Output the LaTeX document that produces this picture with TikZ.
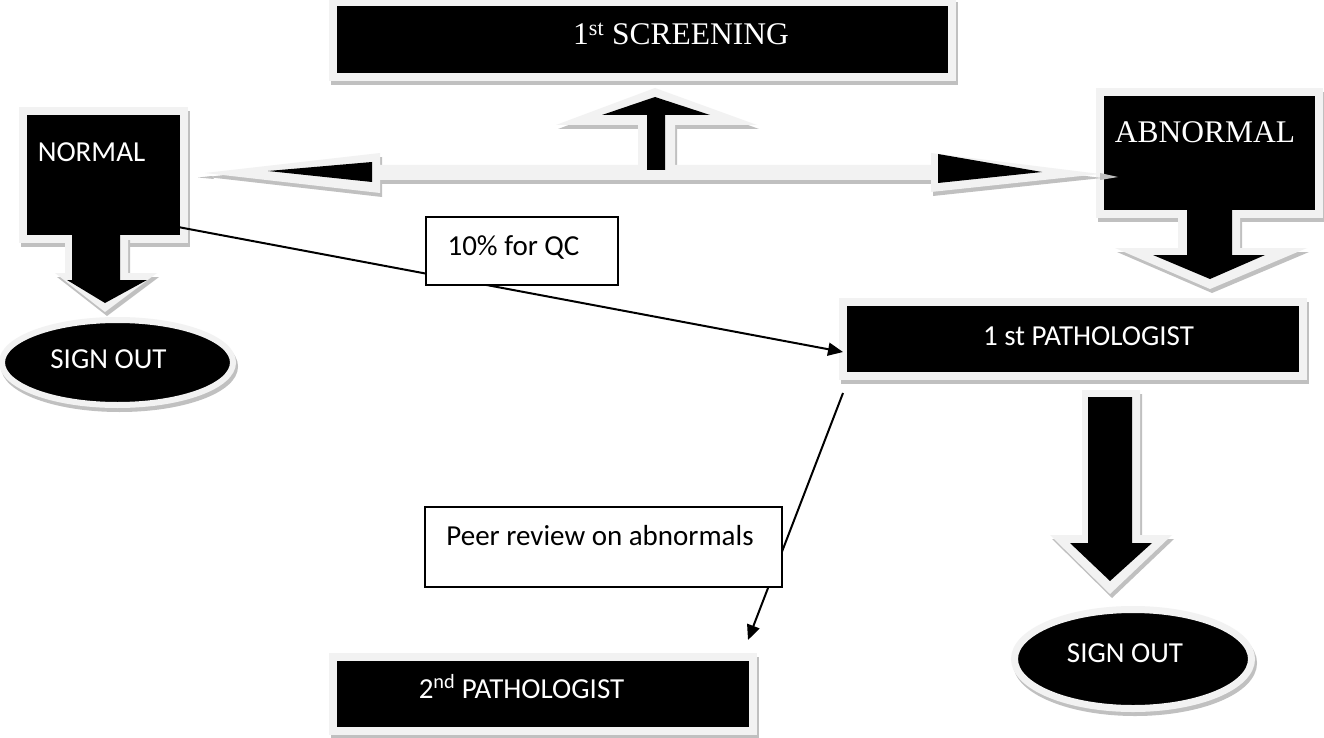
\documentclass[tikz,border=0pt]{standalone}
\usepackage{fontspec}
\setmainfont{Liberation Serif}
\newfontfamily\calfont{Carlito}
\usetikzlibrary{shapes.geometric,arrows.meta,calc}
\definecolor{rimgray}{HTML}{F2F2F2}
\definecolor{shadowgray}{HTML}{C0C0C0}
\tikzset{
  boxshadow/.style={preaction={fill=shadowgray, draw=shadowgray, line width=#1, transform canvas={shift={(2pt,-4pt)}}}},
  blackbox/.style={rectangle, fill=black, draw=rimgray, line width=8pt, inner sep=0pt, outer sep=0pt, boxshadow=8pt},
  blackoval/.style={ellipse, fill=black, draw=rimgray, line width=#1, inner sep=0pt, outer sep=0pt, boxshadow=#1},
  notebox/.style={rectangle, fill=white, draw=black, line width=1.5pt, inner sep=0pt, outer sep=0pt},
  sanstext/.style={inner sep=0pt, anchor=base, text=white, font=\calfont\fontsize{29pt}{34pt}\selectfont},
  seriftext/.style={inner sep=0pt, anchor=base, text=white, font=\fontsize{31.5pt}{37pt}\selectfont},
  notetext/.style={sanstext, text=black},
  rim/.style={fill=rimgray, preaction={fill=shadowgray, transform canvas={shift={(2pt,-4pt)}}}},
  core/.style={fill=black},
  flowline/.style={draw=black, line width=2pt, -{Triangle[length=15pt,width=13pt]}},
}
\begin{document}
\begin{tikzpicture}[x=1pt,y=-1pt]
\useasboundingbox (0,0) rectangle (1324,738);
\fill[white] (0,0) rectangle (1324,738);

% boxes
\node[blackbox, minimum width=619pt, minimum height=75pt] (screening) at (642.5,39.5) {};
\node[blackbox, minimum width=161pt, minimum height=128pt] (normal) at (103.5,175) {};
\node[blackbox, minimum width=219pt, minimum height=122pt] (abnormal) at (1209.5,153) {};
\node[blackbox, minimum width=460pt, minimum height=74pt] (path1) at (1073,339) {};
\node[blackbox, minimum width=420pt, minimum height=74pt] (path2) at (543,694) {};
\node[blackoval=6pt, minimum width=231pt, minimum height=85pt] (signout1) at (117.5,362.5) {};
\node[blackoval=7pt, minimum width=237pt, minimum height=99pt] (signout2) at (1133,659) {};

% block arrows: light rims
\fill[rim] (638,170) -- (638,125) -- (556,125) -- (655,88) -- (757,125) -- (675,125) -- (675,170) -- cycle;
\fill[rim] (205,173) -- (380,153) -- (380,165) -- (931,165) -- (931,153) -- (1100,174) -- (931,192) -- (931,180) -- (380,180) -- (380,193) -- cycle;
\fill[shadowgray] (1100,173) -- (1118,177) -- (1100,180) -- cycle;
\fill[shadowgray] (212,176) -- (198,177.5) -- (214,179) -- cycle;
\fill[rim] (65,236) -- (65,273) -- (55,273) -- (105,312) -- (157,273) -- (128,273) -- (128,236) -- cycle;
\fill[rim] (1178,216) -- (1178,248) -- (1115,248) -- (1210,289) -- (1307,248) -- (1240,248) -- (1240,216) -- cycle;
\fill[rim] (1082,390) -- (1082,535) -- (1050,535) -- (1110,594) -- (1172,535) -- (1140,535) -- (1140,390) -- cycle;

% block arrows: black cores
\fill[core] (647,170) -- (647,115) -- (602,115) -- (655,97) -- (710,115) -- (665,115) -- (665,170) -- cycle;
\fill[core] (268,171) -- (372,162) -- (372,182) -- cycle;
\fill[core] (938,154) -- (1042,172) -- (938,183) -- cycle;
\fill[core] (72,230) -- (72,280) -- (67,280) -- (105,303) -- (147,280) -- (120,280) -- (120,230) -- cycle;
\fill[core] (1187,208) -- (1187,255) -- (1153,255) -- (1210,279) -- (1265,255) -- (1232,255) -- (1232,208) -- cycle;
\fill[core] (1088,397) -- (1088,543) -- (1070,543) -- (1110,581) -- (1152,543) -- (1132,543) -- (1132,397) -- cycle;

% thin connectors
\draw[flowline] ($(normal.south east)+(-6,-12)$) -- ($(path1.west)+(0,13)$);
\draw[flowline] ($(path1.south west)+(0,17)$) -- ($(path2.north east)+(-5,-17)$);

% note boxes
\node[notebox, minimum width=192pt, minimum height=68pt] (qc) at (522,251) {};
\node[notebox, minimum width=357pt, minimum height=80pt] (peer) at (603.5,547) {};

% texts
\node[seriftext] (screeningtext) at (681,45) {1\textsuperscript{st} SCREENING};
\node[seriftext] (abnormaltext) at (1205,143) {ABNORMAL};
\node[sanstext] (normaltext) at (91.5,162) {NORMAL};
\node[sanstext] (signout1text) at (108.5,368) {SIGN OUT};
\node[sanstext] (path1text) at (1088.5,345) {1 st PATHOLOGIST};
\node[sanstext] (signout2text) at (1125,662) {SIGN OUT};
\node[notetext] (qctext) at (513.5,255) {10\% for QC};
\node[notetext] (peertext) at (600,545) {Peer review on abnormals};
\node[sanstext] (path2text) at (521.5,698) {2\textsuperscript{nd} PATHOLOGIST};
\end{tikzpicture}
\end{document}
